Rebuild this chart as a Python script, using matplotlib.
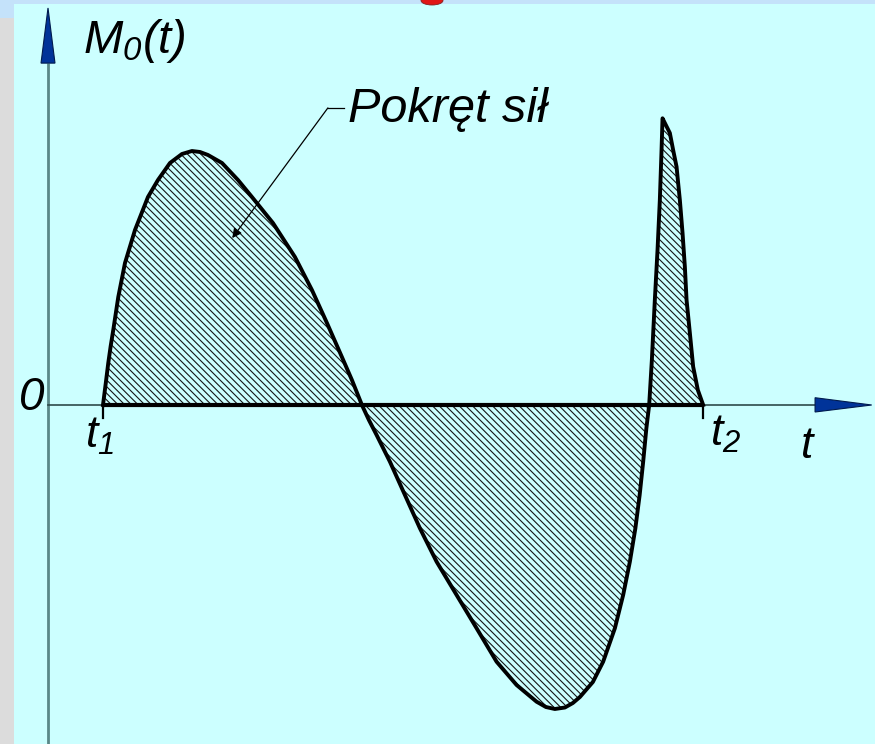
import matplotlib
matplotlib.use("Agg")
import matplotlib.pyplot as plt
from matplotlib.patches import Polygon, Rectangle, Ellipse
import numpy as np

# Torque of forces M0(t) over one working interval [t1, t2]
t_vals = [1.000, 1.051, 1.096, 1.140, 1.187, 1.278, 1.400, 1.582, 1.818, 2.000,
          2.218, 2.436, 2.618, 2.764, 2.909, 3.164, 3.455, 3.709, 4.091, 4.491,
          4.800, 5.073, 5.345, 5.527, 5.709,
          5.836, 5.976, 6.218, 6.491, 6.764, 7.067, 7.431, 7.795, 8.158, 8.522,
          8.885, 9.055, 9.218, 9.400, 9.545, 9.673, 9.909, 10.096, 10.309, 10.460,
          10.582, 10.682, 10.760, 10.824, 10.882, 10.933,
          10.982, 11.036, 11.085, 11.127, 11.158, 11.176, 11.218, 11.309, 11.369,
          11.431, 11.460, 11.491, 11.540, 11.582, 11.613, 11.673, 11.733, 11.818, 11.915]
m_vals = [0.000, 0.786, 1.500, 2.107, 2.679, 3.857, 5.071, 6.250, 7.429, 8.036,
          8.643, 8.964, 9.071, 9.036, 8.929, 8.643, 8.036, 7.429, 6.500, 5.286,
          4.107, 2.929, 1.714, 0.893, 0.000,
          -0.536, -1.071, -2.025, -3.214, -4.404, -5.596, -6.786, -7.975, -9.168, -10.000,
          -10.596, -10.786, -10.857, -10.804, -10.643, -10.429, -9.893, -9.168, -7.975, -6.786,
          -5.596, -4.404, -3.214, -2.025, -0.832, 0.000,
          1.607, 3.750, 5.536, 7.321, 9.107, 10.239, 10.071, 9.714, 9.107,
          8.511, 7.929, 7.321, 6.143, 4.939, 3.750, 2.571, 1.368, 0.536, 0.000]

t1 = t_vals[0]
t2 = t_vals[-1]

t = np.array(t_vals)
m = np.array(m_vals)

FONT = 'Liberation Sans'
plt.rcParams['font.family'] = [FONT, 'DejaVu Sans']
plt.rcParams['mathtext.fontset'] = 'custom'
plt.rcParams['mathtext.rm'] = FONT + ':italic'
plt.rcParams['mathtext.it'] = FONT + ':italic'
plt.rcParams['hatch.linewidth'] = 0.8

fig = plt.figure(figsize=(8.75, 7.44), dpi=100)
fig.patch.set_facecolor('#ccffff')

# window frame strips
fig.patches.append(Rectangle((0, 0), 14 / 875, 1 - 18 / 744, transform=fig.transFigure,
                             facecolor='#dcdcdc', edgecolor='none', zorder=-5))
fig.patches.append(Rectangle((0, 1 - 18 / 744), 14 / 875, 18 / 744, transform=fig.transFigure,
                             facecolor='#c4e2fa', edgecolor='none', zorder=-5))
fig.patches.append(Rectangle((0, 1 - 4 / 744), 1, 4 / 744, transform=fig.transFigure,
                             facecolor='#c4e2fa', edgecolor='none', zorder=-5))
fig.patches.append(Ellipse((432 / 875, 1 - 0.5 / 744), 22 / 875, 9 / 744, transform=fig.transFigure,
                           facecolor='#e01515', edgecolor='#802020', lw=0.6, zorder=-4))

ax = fig.add_axes([0, 0, 1, 1])
ax.set_facecolor('none')
ax.set_xlim(-0.873, 15.04)
ax.set_ylim(-12.107, 14.464)
ax.axis('off')

# axes
ax.plot([0, 0], [-12.2, 12.21], color='#5a8888', lw=2.0, zorder=1, solid_capstyle='butt')
ax.plot([0, 13.95], [0, 0], color='#2e4a4a', lw=1.2, zorder=1)
ax.add_patch(Polygon([[-0.127, 12.21], [0.127, 12.21], [0, 14.18]], closed=True,
                     facecolor='#003399', edgecolor='#001a4d', lw=0.8, zorder=3))
ax.add_patch(Polygon([[13.95, 0.26], [13.95, -0.25], [14.98, 0.0]], closed=True,
                     facecolor='#003399', edgecolor='#001a4d', lw=0.8, zorder=3))

# hatched area under the torque curve
ax.fill_between(t, m, 0, facecolor='none', edgecolor='#151515', hatch='\\\\\\\\\\',
                lw=0, zorder=2)
ax.plot(t, m, color='black', lw=2.8, zorder=4, solid_joinstyle='round')
ax.plot([t1, t2], [0, 0], color='black', lw=3.0, zorder=4, solid_capstyle='butt')

# tick marks at t1 and t2
for tx in (t1, t2):
    ax.plot([tx, tx], [0, -0.47], color='black', lw=1.6, zorder=4)

ax.text(0.64, 12.57, r'$M_0(t)$', fontsize=34, ha='left', va='baseline', color='black')
ax.text(-0.07, 0.25, '0', fontsize=33, style='italic', ha='right', va='center', color='black')
ax.text(0.67, -0.40, r'$t_1$', fontsize=32, ha='left', va='top', color='black')
ax.text(12.04, -0.30, r'$t_2$', fontsize=32, ha='left', va='top', color='black')
ax.text(13.67, -0.75, r'$t$', fontsize=32, ha='left', va='top', color='black')

# callout for the hatched region
ax.text(5.45, 10.1, 'Pokręt sił', fontsize=35, style='italic', ha='left', va='baseline',
        color='black')
ax.plot([5.38, 5.09], [10.61, 10.61], color='black', lw=0.9, zorder=5)
ax.annotate('', xy=(3.35, 5.96), xytext=(5.09, 10.61),
            arrowprops=dict(arrowstyle='-|>', color='black', lw=0.9,
                            mutation_scale=14, shrinkA=0, shrinkB=0), zorder=5)

fig.savefig('out.png', dpi=100, facecolor=fig.get_facecolor())
